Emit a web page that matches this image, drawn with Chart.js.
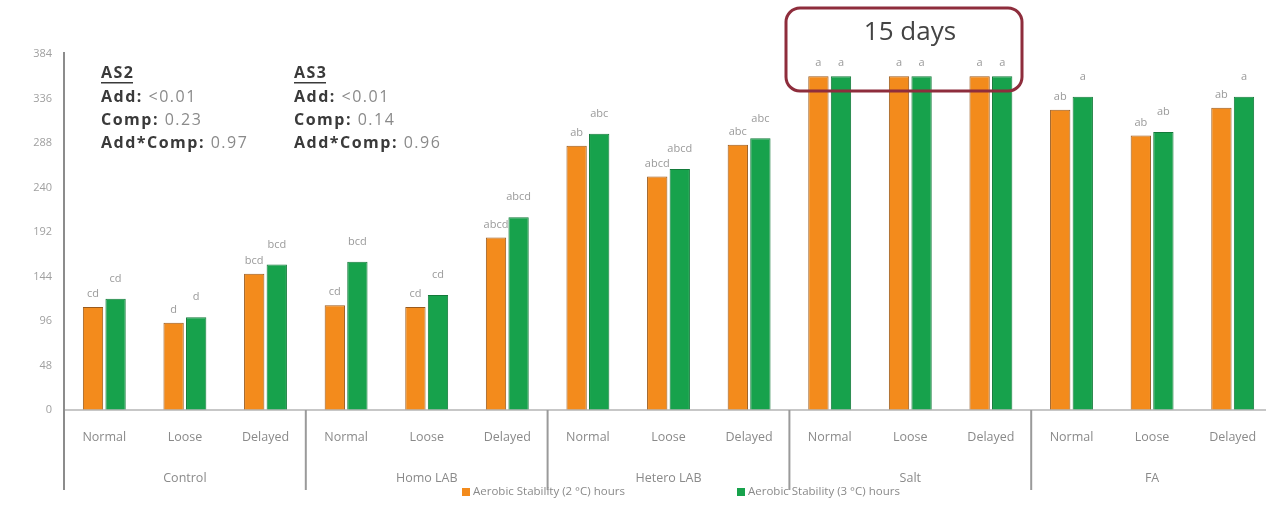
<!DOCTYPE html>
<html>
<head>
<meta charset="utf-8">
<script src="https://cdn.jsdelivr.net/npm/chart.js@4.4.1/dist/chart.umd.min.js"></script>
<style>
  body { margin: 0; overflow: hidden; background: #fff; }
  #wrap { width: 1273px; height: 512px; }
</style>
</head>
<body>
<div id="wrap"><canvas id="chart" width="1273" height="512"></canvas></div>
<script>
// groups and compaction levels
const groups = ['Control', 'Homo LAB', 'Hetero LAB', 'Salt', 'FA'];
const compactions = ['Normal', 'Loose', 'Delayed'];

// aerobic stability in hours
const as2Hours = [111, 94, 147, 113, 111, 186, 285, 252, 286, 360, 360, 360, 324, 296, 326];
const as3Hours = [120, 100, 157, 160, 124, 208, 298, 260, 293, 360, 360, 360, 338, 300, 338];

// significance letters above the bars
const as2Letters = ['cd', 'd', 'bcd', 'cd', 'cd', 'abcd', 'ab', 'abcd', 'abc', 'a', 'a', 'a', 'ab', 'ab', 'ab'];
const as3Letters = ['cd', 'd', 'bcd', 'bcd', 'cd', 'abcd', 'abc', 'abcd', 'abc', 'a', 'a', 'a', 'a', 'ab', 'a'];

const yTicks = [0, 48, 96, 144, 192, 240, 288, 336, 384];
const seriesNames = ['Aerobic Stability (2 \u00B0C) hours', 'Aerobic Stability (3 \u00B0C) hours'];

// p-values boxes
const pTerms = ['Add', 'Comp', 'Add*Comp'];
const as2P = ['<0.01', '0.23', '0.97'];
const as3P = ['<0.01', '0.14', '0.96'];

const orange = '#F38B1C';
const green = '#17A24C';

const labels = [];
groups.forEach(g => compactions.forEach(c => labels.push(c)));

const extras = {
    id: 'extras',
    afterDatasetsDraw(chart) {
        const ctx = chart.ctx;
        ctx.save();
        ctx.font = '11px "Open Sans", sans-serif';
        ctx.fillStyle = '#9a9a9a';
        ctx.textAlign = 'center';
        ctx.textBaseline = 'middle';
        [as2Letters, as3Letters].forEach((letters, di) => {
            const meta = chart.getDatasetMeta(di);
            meta.data.forEach((bar, i) => {
                const off = (di === 1 && as3Hours[i] !== as2Hours[i]) ? 20 : 13;
                ctx.fillText(letters[i], bar.x, bar.y - off);
            });
        });
        ctx.restore();
    },
    afterDraw(chart) {
        const ctx = chart.ctx;
        const area = chart.chartArea;
        const x = chart.scales.x;
        const step = (area.right - area.left) / labels.length;
        ctx.save();

        // baseline
        ctx.strokeStyle = '#b5b5b5';
        ctx.lineWidth = 1.5;
        ctx.beginPath();
        ctx.moveTo(area.left, area.bottom);
        ctx.lineTo(area.right, area.bottom);
        ctx.stroke();

        // y axis line, runs down through the category rows
        ctx.strokeStyle = '#8c8c8c';
        ctx.lineWidth = 2;
        ctx.beginPath();
        ctx.moveTo(area.left, 52);
        ctx.lineTo(area.left, 490);
        ctx.stroke();

        // group separators
        ctx.strokeStyle = '#9a9a9a';
        for (let g = 1; g < groups.length; g++) {
            const sx = area.left + g * compactions.length * step;
            ctx.beginPath();
            ctx.moveTo(sx, area.bottom);
            ctx.lineTo(sx, 490);
            ctx.stroke();
        }

        // category labels
        ctx.fillStyle = '#8a8a8a';
        ctx.font = '12.5px "Open Sans", sans-serif';
        ctx.textAlign = 'center';
        ctx.textBaseline = 'middle';
        labels.forEach((lab, i) => {
            ctx.fillText(lab, x.getPixelForValue(i), 437);
        });
        groups.forEach((g, gi) => {
            const cx = area.left + (gi + 0.5) * compactions.length * step;
            ctx.fillText(g, cx, 478);
        });

        // legend
        ctx.font = '11.5px "Open Sans", sans-serif';
        ctx.textAlign = 'left';
        const legX = [462, 737];
        [orange, green].forEach((col, i) => {
            ctx.fillStyle = col;
            ctx.fillRect(legX[i], 488, 8, 8);
            ctx.fillStyle = '#8a8a8a';
            ctx.fillText(seriesNames[i], legX[i] + 11, 492);
        });

        // p-value notes
        const drawNote = (title, vals, nx) => {
            ctx.letterSpacing = '1.5px';
            ctx.textAlign = 'left';
            ctx.textBaseline = 'middle';
            ctx.font = 'bold 16px "Open Sans", sans-serif';
            ctx.fillStyle = '#3a3a3a';
            ctx.fillText(title, nx, 73);
            const tw = ctx.measureText(title).width;
            ctx.fillRect(nx, 82, tw - 1.5, 1.5);
            pTerms.forEach((t, i) => {
                const ny = 97 + i * 23;
                ctx.font = 'bold 16px "Open Sans", sans-serif';
                ctx.fillStyle = '#3a3a3a';
                ctx.fillText(t + ':', nx, ny);
                const w = ctx.measureText(t + ': ').width;
                ctx.font = '16px "Open Sans", sans-serif';
                ctx.fillStyle = '#8a8a8a';
                ctx.fillText(vals[i], nx + w, ny);
            });
            ctx.letterSpacing = '0px';
        };
        drawNote('AS2', as2P, 101);
        drawNote('AS3', as3P, 294);

        // "15 days" box over the Salt group
        ctx.strokeStyle = '#8E2D3C';
        ctx.lineWidth = 3;
        ctx.beginPath();
        ctx.roundRect(786, 8, 236, 83, 14);
        ctx.stroke();
        ctx.fillStyle = '#444';
        ctx.font = '26px "Open Sans", sans-serif';
        ctx.textAlign = 'center';
        ctx.fillText('15 days', 910, 33);

        ctx.restore();
    }
};

const ctx = document.getElementById('chart').getContext('2d');
new Chart(ctx, {
    type: 'bar',
    data: {
        labels: labels,
        datasets: [{
            label: seriesNames[0],
            data: as2Hours,
            backgroundColor: orange,
            borderColor: '#9a5a1c',
            borderWidth: 1,
            categoryPercentage: 0.56,
            barPercentage: 0.9
        }, {
            label: seriesNames[1],
            data: as3Hours,
            backgroundColor: green,
            borderColor: '#137a3a',
            borderWidth: 1,
            categoryPercentage: 0.56,
            barPercentage: 0.9
        }]
    },
    options: {
        responsive: false,
        animation: false,
        layout: { padding: { top: 54, bottom: 102, left: 0, right: 0 } },
        plugins: { legend: { display: false }, tooltip: { enabled: false } },
        scales: {
            x: { display: false },
            y: {
                min: 0,
                max: 384,
                afterFit: s => { s.width = 64; },
                afterBuildTicks: s => { s.ticks = yTicks.map(v => ({ value: v })); },
                grid: { display: false, drawTicks: false },
                border: { display: false },
                ticks: {
                    padding: 12,
                    color: '#a0a0a0',
                    font: { size: 11, family: '"Open Sans", sans-serif' }
                }
            }
        }
    },
    plugins: [extras]
});
</script>
</body>
</html>
